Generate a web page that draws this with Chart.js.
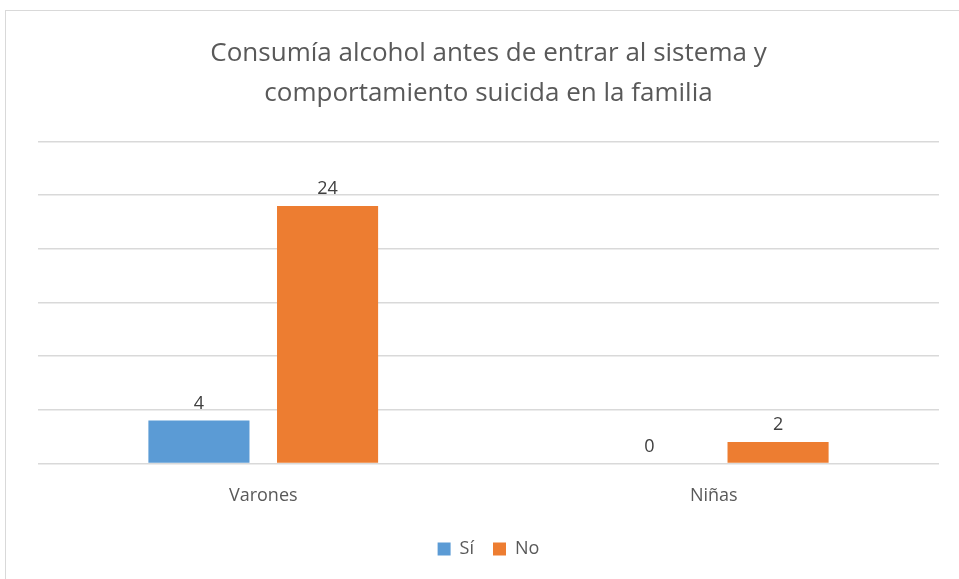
<!DOCTYPE html>
<html>
<head>
<meta charset="utf-8">
<script src="https://cdn.jsdelivr.net/npm/chart.js@4.4.0/dist/chart.umd.min.js"></script>
<style>
  html, body { margin: 0; padding: 0; background: #fff; }
  #wrap { position: relative; width: 959px; height: 579px; }
  #frame { position: absolute; left: 5px; top: 10px; width: 960px; height: 580px; border: 1px solid #d9d9d9; box-sizing: border-box; }
  canvas { position: absolute; left: 0; top: 0; }
</style>
</head>
<body>
<div id="wrap">
  <div id="frame"></div>
  <canvas id="chart" width="959" height="579"></canvas>
</div>
<script>
const categories = ['Varones', 'Niñas'];
const siValues = [4, 0];
const noValues = [24, 2];
const seriesNames = ['Sí', 'No'];
const titleLines = ['Consumía alcohol antes de entrar al sistema y', 'comportamiento suicida en la familia'];

const FONT = "'Open Sans', 'Noto Sans', sans-serif";

// draws the value above each bar
const valueLabels = {
  id: 'valueLabels',
  afterDatasetsDraw(chart) {
    const ctx = chart.ctx;
    ctx.save();
    ctx.font = `18px ${FONT}`;
    ctx.fillStyle = '#404040';
    ctx.textAlign = 'center';
    ctx.textBaseline = 'bottom';
    chart.data.datasets.forEach((ds, di) => {
      chart.getDatasetMeta(di).data.forEach((bar, i) => {
        ctx.fillText(String(ds.data[i]), bar.x, bar.y - 8);
      });
    });
    ctx.restore();
  }
};

new Chart(document.getElementById('chart'), {
  type: 'bar',
  data: {
    labels: categories,
    datasets: [
      { label: seriesNames[0], data: siValues, backgroundColor: '#5b9bd5' },
      { label: seriesNames[1], data: noValues, backgroundColor: '#ed7d31' }
    ]
  },
  options: {
    responsive: false,
    animation: false,
    devicePixelRatio: 1,
    categoryPercentage: 0.571,
    barPercentage: 0.786,
    layout: { padding: { left: 38, right: 20, top: 33, bottom: 11 } },
    scales: {
      x: {
        grid: { display: false },
        border: { display: false },
        ticks: { color: '#595959', font: { family: FONT, size: 18 }, padding: 14 }
      },
      y: {
        min: 0, max: 30,
        ticks: { display: false, stepSize: 5 },
        grid: { color: '#d9d9d9', lineWidth: 1.5, drawTicks: false },
        border: { display: false }
      }
    },
    plugins: {
      title: {
        display: true,
        text: titleLines,
        color: '#595959',
        font: { family: FONT, size: 26, weight: 'normal', lineHeight: 1.55 },
        padding: { top: 0, bottom: 28 }
      },
      legend: {
        position: 'bottom',
        labels: { color: '#595959', font: { family: FONT, size: 18 }, boxWidth: 13, boxHeight: 13, padding: 19 }
      },
      tooltip: { enabled: false }
    }
  },
  plugins: [valueLabels]
});
</script>
</body>
</html>
